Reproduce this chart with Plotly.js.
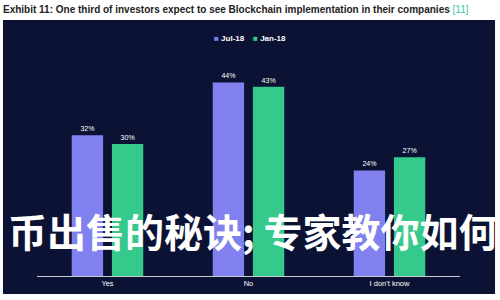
<!DOCTYPE html>
<html>
<head>
<meta charset="utf-8">
<script src="https://cdn.plot.ly/plotly-3.0.1.min.js"></script>
<style>html,body{margin:0;padding:0;background:#fff;}#chart{width:500px;height:300px;}</style>
</head>
<body>
<div id="chart"></div>
<script>
const categories = ["Yes", "No", "I don't know"];
const seriesNames = ["Jul-18", "Jan-18"];
const jul18 = [32, 44, 24];
const jan18 = [30, 43, 27];
const titleText = "Exhibit 11: One third of investors expect to see Blockchain implementation in their companies";
const titleRef = "[11]";
const overlayText = "币出售的秘诀; 专家教你如何";

const panel = "#0b1234";
const purple = "#8080ee";
const green = "#35c98c";
const colors = [purple, green];

const traces = [jul18, jan18].map((vals, i) => ({
  type: "bar", name: seriesNames[i], x: categories, y: vals,
  marker: {color: colors[i]}, showlegend: false,
  texttemplate: "%{y}%", textposition: "outside", cliponaxis: false,
  textfont: {color: "#ffffff", size: 7, family: "Liberation Sans, Arial, sans-serif"}
}));

const legendText = seriesNames.map((n, i) =>
  "<span style='color:" + colors[i] + "'>■</span> <b>" + n + "</b>").join("&nbsp;&nbsp;&nbsp;&nbsp;");

const layout = {
  width: 500, height: 300,
  margin: {l: 37, r: 40, t: 56, b: 24},
  paper_bgcolor: "#ffffff",
  plot_bgcolor: panel,
  barmode: "group",
  bargap: 0.43,
  bargroupgap: 0.22,
  font: {family: "Liberation Sans, Arial, sans-serif"},
  title: {
    text: "<b>" + titleText + "</b> <span style='color:#3cc8a0'>" + titleRef + "</span>",
    x: 0.006, xanchor: "left", xref: "container",
    y: 0.967, yanchor: "middle", yref: "container",
    font: {size: 10, color: "#222222", family: "Liberation Sans, Arial, sans-serif"}
  },
  xaxis: {
    showline: true, linecolor: "#c5cad6", linewidth: 1,
    ticks: "", showgrid: false, zeroline: false,
    tickfont: {color: "#ffffff", size: 7.5}
  },
  yaxis: {range: [0, 50], visible: false, showgrid: false, zeroline: false},
  showlegend: false,
  shapes: [{
    type: "rect", xref: "paper", yref: "paper", layer: "below",
    x0: -0.0804, x1: 1.0828, y0: -0.0818, y1: 1.1636,
    fillcolor: panel, line: {width: 0}
  }],
  annotations: [
    {
      text: legendText, xref: "paper", yref: "paper",
      x: (250 - 37) / 423, xanchor: "center", y: (276 - 38) / 220, yanchor: "middle",
      showarrow: false,
      font: {family: "Liberation Sans, Arial, sans-serif", size: 8, color: "#ffffff"}
    },
    {
      text: overlayText, xref: "paper", yref: "paper",
      x: -0.074, xanchor: "left", y: (276 - 230) / 220, yanchor: "middle",
      showarrow: false,
      font: {family: "Noto Sans CJK SC", size: 39, color: "#ffffff", weight: "bold"}
    }
  ]
};

Plotly.newPlot("chart", traces, layout, {displayModeBar: false, staticPlot: true});
</script>
</body>
</html>
